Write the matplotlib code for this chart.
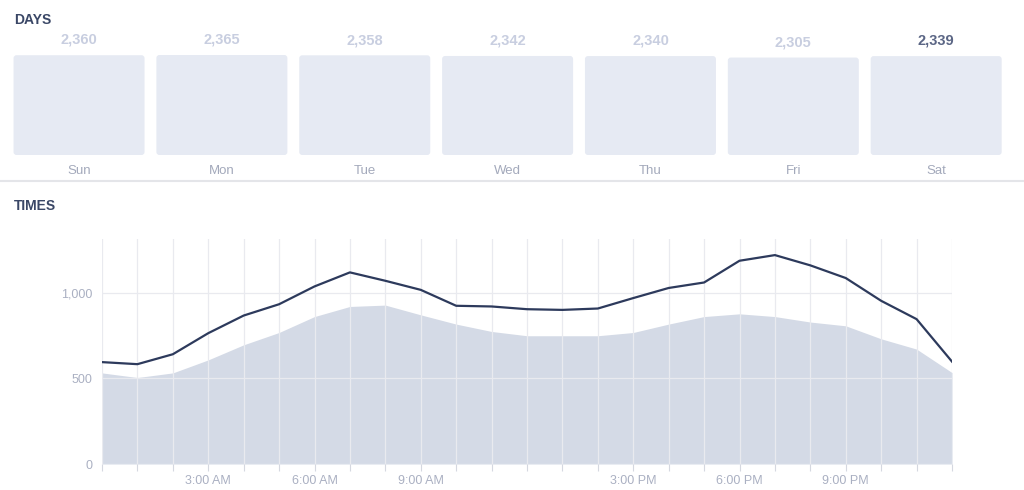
import numpy as np
from matplotlib import pyplot as plt
from matplotlib.patches import FancyBboxPatch

plt.rcParams['font.family'] = ['Liberation Sans', 'DejaVu Sans']

days = ['Sun', 'Mon', 'Tue', 'Wed', 'Thu', 'Fri', 'Sat']
day_counts = [2360, 2365, 2358, 2342, 2340, 2305, 2339]
selected_day = 'Sat'

hours = list(range(25))
hour_labels = {3: '3:00 AM', 6: '6:00 AM', 9: '9:00 AM',
               15: '3:00 PM', 18: '6:00 PM', 21: '9:00 PM'}
times_line = [595, 583, 641, 764, 867, 933, 1037, 1119, 1070, 1017, 924, 920, 904,
              900, 908, 969, 1028, 1060, 1187, 1220, 1160, 1086, 953, 846, 598]
times_area = [532, 505, 532, 608, 696, 768, 861, 920, 928, 871, 817, 774, 749,
              749, 749, 768, 817, 861, 877, 861, 829, 807, 731, 671, 534]

navy = '#2d3a5c'
title_col = '#3a4766'
light_txt = '#aab0c2'
box_col = '#e6eaf3'
fill_col = '#d4dae6'
grid_col = '#e9eaef'

W, H = 1024, 490
fig = plt.figure(figsize=(W / 100, H / 100), dpi=100)


def px_axes(left, top, right, bottom):
    return fig.add_axes([left / W, 1 - bottom / H, (right - left) / W, (bottom - top) / H])


fig.text(14 / W, 1 - 20 / H, 'DAYS', fontsize=10, fontweight='bold', color=title_col, va='center')
fig.text(14 / W, 1 - 206 / H, 'TIMES', fontsize=10, fontweight='bold', color=title_col, va='center')
fig.add_artist(plt.Line2D([0, 1], [1 - 181 / H] * 2, color='#e4e5e9', lw=1.5))

# Days
axd = px_axes(7.6, 55, 1007.6, 155)
x = np.arange(len(days))
bars = axd.bar(x, day_counts, width=0.917, color='none')
axd.set_xlim(-0.5, len(days) - 0.5)
axd.set_ylim(0, max(day_counts))
xu_per_px = len(days) / 1000.0
yu_per_px = max(day_counts) / 100.0
for b, d, v in zip(bars, days, day_counts):
    axd.add_patch(FancyBboxPatch((b.get_x(), 0), b.get_width(), b.get_height(),
                                 boxstyle='round,pad=0,rounding_size=%f' % (3 * xu_per_px),
                                 mutation_aspect=yu_per_px / xu_per_px,
                                 fc=box_col, ec='none', clip_on=False))
    sel = d == selected_day
    axd.annotate('{:,}'.format(v), (b.get_x() + b.get_width() / 2, v), xytext=(0, 11),
                 textcoords='offset points', ha='center', va='center', fontsize=10.5,
                 fontweight='bold', color='#5b6685' if sel else '#c8cee0')
    axd.annotate(d, (b.get_x() + b.get_width() / 2, 0), xytext=(0, -11.5),
                 textcoords='offset points', ha='center', va='center', fontsize=9.5,
                 color='#a3a9bb')
axd.axis('off')

# Times
axt = px_axes(102, 239, 952, 464)
axt.fill_between(hours, times_area, 0, color=fill_col, lw=0, zorder=1)
axt.plot(hours, times_line, color=navy, lw=1.6, zorder=3)
axt.set_xlim(0, 24)
axt.set_ylim(0, 1314)
axt.set_xticks(hours)
axt.set_xticklabels([hour_labels.get(h, '') for h in hours])
axt.set_yticks([0, 500, 1000])
axt.set_yticklabels(['0', '500', '1,000'])
axt.grid(True, color=grid_col, lw=0.9, zorder=2)
axt.set_axisbelow(False)
for s in axt.spines.values():
    s.set_visible(False)
axt.tick_params(axis='x', length=5, width=0.8, color='#d5d8e0', labelsize=9,
                labelcolor=light_txt, pad=3)
axt.tick_params(axis='y', length=0, labelsize=9, labelcolor=light_txt, pad=7)

fig.savefig('out.png', dpi=100, facecolor='white')
